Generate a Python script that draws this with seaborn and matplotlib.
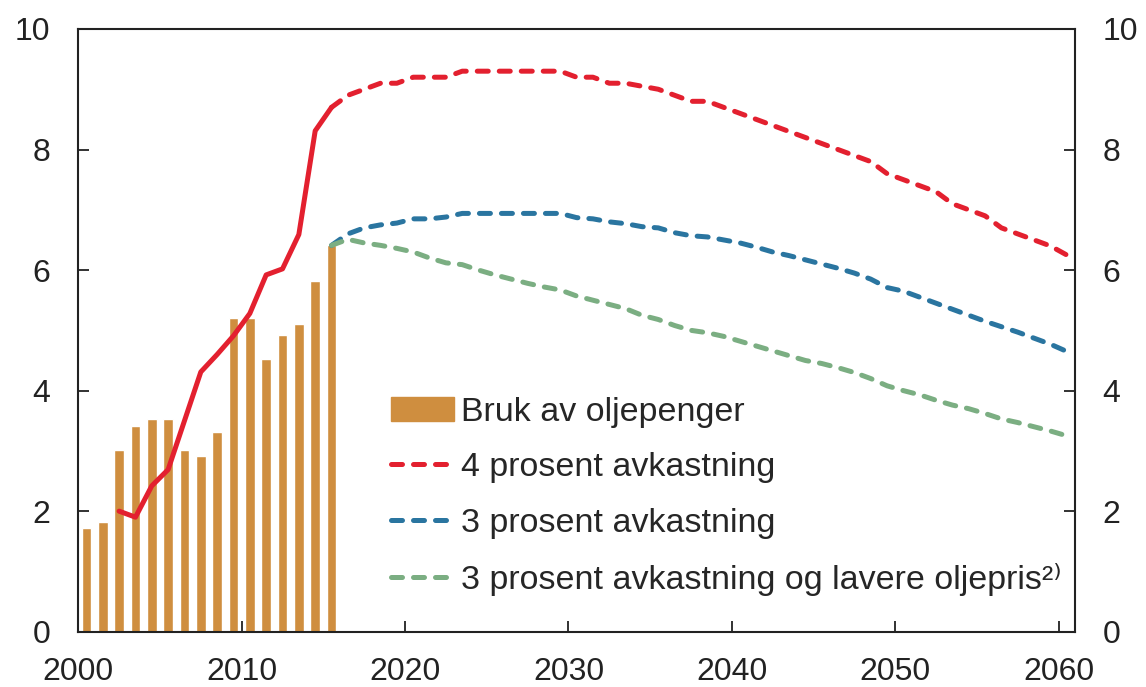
import numpy as np
import pandas as pd
import seaborn as sns
import matplotlib.pyplot as plt

# bars: use of oil money, 2000-2015 (percent)
bar_years = list(range(2000, 2016))
bar_values = [1.72, 1.82, 3.02, 3.42, 3.53, 3.53, 3.02, 2.91, 3.32, 5.21,
              5.21, 4.52, 4.92, 5.11, 5.82, 6.41]

# historical 4 percent path (solid)
hist_years = list(range(2002, 2016))
hist_values = [2.0, 1.9, 2.42, 2.69, 3.5, 4.31, 4.6, 4.91, 5.28, 5.92,
               6.02, 6.59, 8.31, 8.70]

# projections 2015-2060
proj_years = list(range(2015, 2061))
red_values = [8.70, 8.9, 9.0, 9.1, 9.1, 9.2, 9.2, 9.2, 9.3, 9.3,
              9.3, 9.3, 9.3, 9.3, 9.3, 9.2, 9.2, 9.1, 9.1, 9.05,
              9.0, 8.9, 8.8, 8.8, 8.7, 8.6, 8.5, 8.4, 8.3, 8.2,
              8.1, 8.0, 7.9, 7.8, 7.6, 7.5, 7.4, 7.3, 7.1, 7.0,
              6.9, 6.7, 6.6, 6.5, 6.4, 6.25]
blue_values = [6.41, 6.6, 6.7, 6.75, 6.78, 6.85, 6.85, 6.88, 6.94, 6.94,
               6.94, 6.94, 6.94, 6.94, 6.94, 6.87, 6.85, 6.8, 6.77, 6.72,
               6.7, 6.62, 6.57, 6.55, 6.5, 6.45, 6.38, 6.3, 6.24, 6.17,
               6.1, 6.03, 5.95, 5.85, 5.71, 5.65, 5.55, 5.45, 5.35, 5.25,
               5.15, 5.06, 4.97, 4.87, 4.77, 4.65]
green_values = [6.41, 6.51, 6.45, 6.41, 6.36, 6.3, 6.2, 6.12, 6.09, 6.0,
                5.92, 5.85, 5.78, 5.72, 5.67, 5.57, 5.5, 5.43, 5.36, 5.25,
                5.18, 5.08, 5.0, 4.96, 4.9, 4.82, 4.74, 4.66, 4.58, 4.5,
                4.45, 4.38, 4.3, 4.2, 4.08, 4.0, 3.93, 3.84, 3.76, 3.7,
                3.62, 3.53, 3.47, 3.4, 3.33, 3.25]

labels = ["Bruk av oljepenger", "4 prosent avkastning", "3 prosent avkastning",
          "3 prosent avkastning og lavere oljepris²⁾"]

c_bar = "#CF8E3F"
c_red = "#E3202F"
c_blue = "#2A75A0"
c_green = "#7BAE82"

sns.set_style("white")
plt.rcParams['font.family'] = ['Liberation Sans', 'DejaVu Sans']
plt.rcParams['font.size'] = 23

fig = plt.figure(figsize=(11.46, 6.87), dpi=100)
ax = fig.add_axes([0.0683, 0.0805, 0.8697, 0.8773])

# values are for the middle of each year
bars = pd.DataFrame({"x": np.array(bar_years) + 0.5, "y": bar_values})
sns.barplot(data=bars, x="x", y="y", native_scale=True, width=0.58,
            color=c_bar, saturation=1, ax=ax)

hist = pd.DataFrame({"x": np.array(hist_years) + 0.5, "y": hist_values})
sns.lineplot(data=hist, x="x", y="y", color=c_red, lw=3.6, ax=ax)

proj_x = np.array(proj_years) + 0.5
dash = (0, (2.2, 2.2))
for vals, col in [(red_values, c_red), (blue_values, c_blue), (green_values, c_green)]:
    sns.lineplot(x=proj_x, y=vals, color=col, lw=3.6, linestyle=dash,
                 dash_capstyle="round", ax=ax)

ax.set_xlim(2000, 2061)
ax.set_ylim(0, 10)
ax.set_xticks(range(2000, 2061, 10))
ax.set_yticks(range(0, 11, 2))
ax.set_xlabel("")
ax.set_ylabel("")
ax.tick_params(direction="in", length=8, width=1.3, colors="#222222",
               labelcolor="#222222")
ax.tick_params(axis="x", bottom=True, pad=18)
ax.tick_params(axis="y", left=True, right=True, labelright=True, pad=20)
for s in ax.spines.values():
    s.set_visible(True)
    s.set_color("#222222")
    s.set_linewidth(1.5)

handles = [
    plt.Rectangle((0, 0), 1, 1, color=c_bar),
    plt.Line2D([], [], color=c_red, lw=3.6, linestyle=dash, dash_capstyle="round"),
    plt.Line2D([], [], color=c_blue, lw=3.6, linestyle=dash, dash_capstyle="round"),
    plt.Line2D([], [], color=c_green, lw=3.6, linestyle=dash, dash_capstyle="round"),
]
ax.legend(handles, labels, loc="upper left", bbox_to_anchor=(0.314, 0.39),
          frameon=False, fontsize=24.5, handlelength=1.85, handletextpad=0.2,
          labelspacing=0.72, borderpad=0, borderaxespad=0)

fig.savefig("out.png", dpi=100)
